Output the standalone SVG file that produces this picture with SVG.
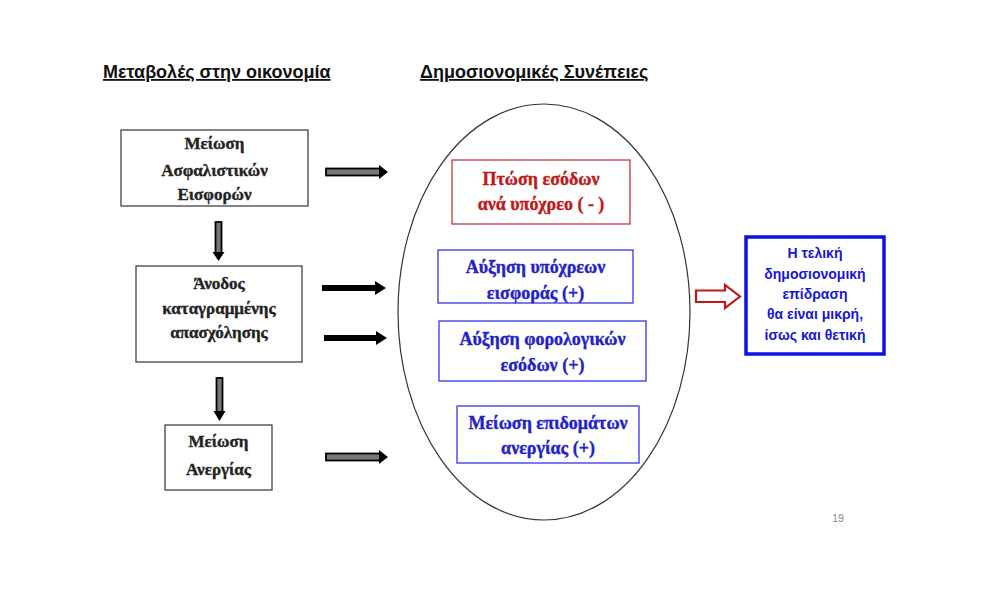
<svg xmlns="http://www.w3.org/2000/svg" width="1007" height="595" viewBox="0 0 1007 595">
<defs>
<style>
.title{font-family:"Liberation Sans","Noto Sans",sans-serif;font-size:18px;font-weight:bold;fill:#111;text-decoration:underline;}
.box{fill:#fff;stroke:#333;stroke-width:1.2;}
.bt{font-family:"Liberation Serif","DejaVu Serif",serif;font-size:17px;font-weight:700;fill:#222;stroke:#222;stroke-width:0.35;text-anchor:middle;}
.rbox{fill:#fff;stroke:#c0393b;stroke-width:1.3;}
.rt{font-family:"Liberation Serif","DejaVu Serif",serif;font-size:18px;font-weight:700;fill:#c01818;stroke:#c01818;stroke-width:0.35;text-anchor:middle;}
.bbox{fill:#fff;stroke:#3434f0;stroke-width:1.3;}
.blt{font-family:"Liberation Serif","DejaVu Serif",serif;font-size:18px;font-weight:700;fill:#2222c8;stroke:#2222c8;stroke-width:0.35;text-anchor:middle;}
.ft{font-family:"Liberation Sans","Noto Sans",sans-serif;font-size:14px;font-weight:bold;fill:#1616d8;text-anchor:middle;}
.oshaft{fill:#777;stroke:#000;stroke-width:1.8;}
.head{fill:#000;}
</style>
</defs>
<rect width="1007" height="595" fill="#fff"/>
<text class="title" x="103" y="78">Μεταβολές στην οικονομία</text>
<text class="title" x="420" y="78">Δημοσιονομικές Συνέπειες</text>

<g id="ellipse"><ellipse cx="544" cy="312" rx="146" ry="208" fill="none" stroke="#333" stroke-width="1.2"/></g>

<g id="connectors">
<rect class="oshaft" x="326" y="168.5" width="54" height="7"/>
<polygon class="head" points="379,165 388,172 379,179"/>
<rect class="oshaft" x="326" y="453.5" width="54" height="7"/>
<polygon class="head" points="379,450 388,457 379,464"/>
<rect fill="#000" x="322" y="285" width="54" height="6"/>
<polygon class="head" points="375,281 386,288 375,295"/>
<rect fill="#000" x="324" y="335" width="53" height="6"/>
<polygon class="head" points="376,331 387,338 376,345"/>
<rect class="oshaft" x="215.5" y="222" width="6" height="31"/>
<polygon class="head" points="212.5,252 224.5,252 218.5,261"/>
<rect class="oshaft" x="216.5" y="378" width="6" height="34"/>
<polygon class="head" points="213.5,411 225.5,411 219.5,421"/>
<polygon points="696,290.5 725,290.5 725,285 740,296.5 725,308 725,302 696,302" fill="#fff" stroke="#c01818" stroke-width="2.2"/>
</g>

<g id="n1"><rect class="box" x="121" y="130" width="187" height="76"/>
<text class="bt" x="214.5" y="149">Μείωση</text>
<text class="bt" x="214.5" y="176">Ασφαλιστικών</text>
<text class="bt" x="214.5" y="200">Εισφορών</text></g>

<g id="n2"><rect class="box" x="136" y="266" width="166" height="96"/>
<text class="bt" x="219" y="289">Άνοδος</text>
<text class="bt" x="219" y="314">καταγραμμένης</text>
<text class="bt" x="219" y="338">απασχόλησης</text></g>

<g id="n3"><rect class="box" x="165" y="425" width="107" height="65"/>
<text class="bt" x="218.5" y="447">Μείωση</text>
<text class="bt" x="218.5" y="475">Ανεργίας</text></g>

<g id="r1"><rect class="rbox" x="452" y="160" width="178" height="64"/>
<text class="rt" x="541" y="185">Πτώση εσόδων</text>
<text class="rt" x="541" y="210">ανά υπόχρεο ( - )</text></g>

<g id="b1"><rect class="bbox" x="438" y="250" width="195" height="53"/>
<text class="blt" x="535.5" y="273">Αύξηση υπόχρεων</text>
<text class="blt" x="535.5" y="299">εισφοράς (+)</text></g>

<g id="b2"><rect class="bbox" x="439" y="321" width="207" height="60"/>
<text class="blt" x="542.5" y="345">Αύξηση φορολογικών</text>
<text class="blt" x="542.5" y="371">εσόδων (+)</text></g>

<g id="b3"><rect class="bbox" x="457" y="406" width="182" height="57"/>
<text class="blt" x="548" y="429">Μείωση επιδομάτων</text>
<text class="blt" x="548" y="454">ανεργίας (+)</text></g>

<g id="final"><rect x="746" y="237" width="138" height="117" fill="#fff" stroke="#1010e0" stroke-width="3.5"/>
<text class="ft" x="815" y="258">Η τελική</text>
<text class="ft" x="815" y="279">δημοσιονομική</text>
<text class="ft" x="815" y="299">επίδραση</text>
<text class="ft" x="815" y="319">θα είναι μικρή,</text>
<text class="ft" x="815" y="340">ίσως και θετική</text></g>

<text x="838" y="522" font-family="Liberation Sans,sans-serif" font-size="10.5" fill="#888" text-anchor="middle">19</text>
</svg>
